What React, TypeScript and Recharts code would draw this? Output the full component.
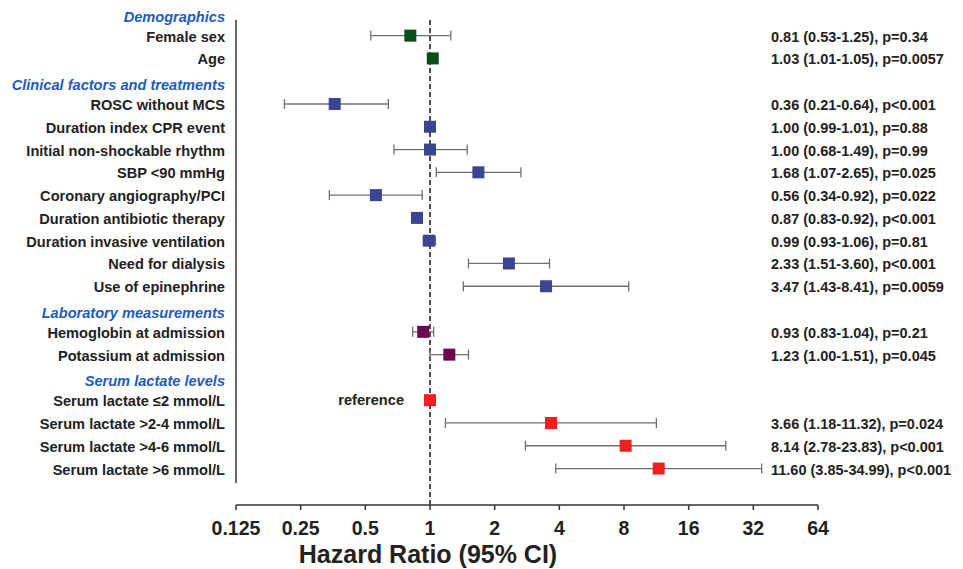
import React from 'react';
import { ScatterChart, Scatter, XAxis, YAxis, ErrorBar, ReferenceLine } from 'recharts';

const rowLabels = [
  'Demographics',
  'Female sex',
  'Age',
  'Clinical factors and treatments',
  'ROSC without MCS',
  'Duration index CPR event',
  'Initial non-shockable rhythm',
  'SBP <90 mmHg',
  'Coronary angiography/PCI',
  'Duration antibiotic therapy',
  'Duration invasive ventilation',
  'Need for dialysis',
  'Use of epinephrine',
  'Laboratory measurements',
  'Hemoglobin at admission',
  'Potassium at admission',
  'Serum lactate levels',
  'Serum lactate ≤2 mmol/L',
  'Serum lactate >2-4 mmol/L',
  'Serum lactate >4-6 mmol/L',
  'Serum lactate >6 mmol/L',
];
const headerRows = [0, 3, 13, 16];
const rowGroups = [
  'demo', 'demo', 'demo',
  'clin', 'clin', 'clin', 'clin', 'clin', 'clin', 'clin', 'clin', 'clin', 'clin',
  'lab', 'lab', 'lab',
  'lact', 'lact', 'lact', 'lact', 'lact',
];
const hrValues: (number | null)[] = [null, 0.81, 1.03, null, 0.36, 1.0, 1.0, 1.68, 0.56, 0.87, 0.99, 2.33, 3.47, null, 0.93, 1.23, null, 1.0, 3.66, 8.14, 11.6];
const ciLow: (number | null)[] = [null, 0.53, 1.01, null, 0.21, 0.99, 0.68, 1.07, 0.34, 0.83, 0.93, 1.51, 1.43, null, 0.83, 1.0, null, null, 1.18, 2.78, 3.85];
const ciHigh: (number | null)[] = [null, 1.25, 1.05, null, 0.64, 1.01, 1.49, 2.65, 0.92, 0.92, 1.06, 3.6, 8.41, null, 1.04, 1.51, null, null, 11.32, 23.83, 34.99];
const statTexts = [
  '',
  '0.81 (0.53-1.25), p=0.34',
  '1.03 (1.01-1.05), p=0.0057',
  '',
  '0.36 (0.21-0.64), p<0.001',
  '1.00 (0.99-1.01), p=0.88',
  '1.00 (0.68-1.49), p=0.99',
  '1.68 (1.07-2.65), p=0.025',
  '0.56 (0.34-0.92), p=0.022',
  '0.87 (0.83-0.92), p<0.001',
  '0.99 (0.93-1.06), p=0.81',
  '2.33 (1.51-3.60), p<0.001',
  '3.47 (1.43-8.41), p=0.0059',
  '',
  '0.93 (0.83-1.04), p=0.21',
  '1.23 (1.00-1.51), p=0.045',
  '',
  '',
  '3.66 (1.18-11.32), p=0.024',
  '8.14 (2.78-23.83), p<0.001',
  '11.60 (3.85-34.99), p<0.001',
];
const referenceRow = 17;
const referenceNote = 'reference';
const xTicks = [0.125, 0.25, 0.5, 1, 2, 4, 8, 16, 32, 64];
const rowTicks = rowLabels.map((_, i) => i);

const groupColors: Record<string, string> = {
  demo: '#0b4d16',
  clin: '#3b4491',
  lab: '#6d0652',
  lact: '#ee2020',
};

const FONT = '"Liberation Sans", Arial, Helvetica, sans-serif';
const LABEL_RIGHT = 225;
const STATS_LEFT = 771;

const buildGroup = (g: string) =>
  rowLabels
    .map((_, i) => i)
    .filter((i) => rowGroups[i] === g && hrValues[i] != null && ciLow[i] != null && ciHigh[i] != null)
    .map((i) => ({
      x: hrValues[i] as number,
      y: i,
      err: [(hrValues[i] as number) - (ciLow[i] as number), (ciHigh[i] as number) - (hrValues[i] as number)],
    }));

const referenceData = [{ x: hrValues[referenceRow] as number, y: referenceRow, note: referenceNote }];

const RowTick = (props: any) => {
  const { y, payload } = props;
  const i = payload.value as number;
  const isHeader = headerRows.includes(i);
  return (
    <g>
      <text
        x={LABEL_RIGHT}
        y={y + (isHeader ? 9 : 6)}
        textAnchor="end"
        fontSize={14.6}
        fontWeight="bold"
        fontStyle={isHeader ? 'italic' : 'normal'}
        fill={isHeader ? '#1d5cb8' : '#222'}
        fontFamily={FONT}
      >
        {rowLabels[i]}
      </text>
      {statTexts[i] ? (
        <text x={STATS_LEFT} y={y + 6} textAnchor="start" fontSize={14.5} fontWeight="bold" fill="#222" fontFamily={FONT}>
          {statTexts[i]}
        </text>
      ) : null}
    </g>
  );
};

const makeSquare = (color: string) => (props: any) => {
  const { cx, cy, payload } = props;
  if (cx == null || cy == null) return <g />;
  return (
    <g>
      <rect x={cx - 6} y={cy - 6} width={12} height={12} fill={color} />
      {payload && payload.note ? (
        <text x={cx - 26} y={cy + 5} textAnchor="end" fontSize={14.6} fontWeight="bold" fill="#222" fontFamily={FONT}>
          {payload.note}
        </text>
      ) : null}
    </g>
  );
};

const TitleLabel = () => (
  <text x={428} y={563} textAnchor="middle" fontSize={25} fontWeight="bold" fill="#222" fontFamily={FONT}>
    Hazard Ratio (95% CI)
  </text>
);

export default function App() {
  return (
    <div style={{ position: 'absolute', left: 0, top: 0, width: 963, height: 569, background: '#fff' }}>
      <ScatterChart width={963} height={569} margin={{ top: 6, right: 145, bottom: 0, left: 0 }}>
        <XAxis
          type="number"
          dataKey="x"
          scale="log"
          domain={[0.125, 64]}
          ticks={xTicks}
          allowDataOverflow
          interval={0}
          height={64}
          tickSize={5}
          tickMargin={11}
          axisLine={{ stroke: '#333', strokeWidth: 1.5 }}
          tickLine={{ stroke: '#333', strokeWidth: 1.5 }}
          tick={{ fontSize: 19.5, fontWeight: 'bold', fill: '#222', fontFamily: FONT }}
          label={{ content: () => <TitleLabel /> }}
        />
        <YAxis
          type="number"
          dataKey="y"
          domain={[-0.3, 21.6]}
          reversed
          allowDataOverflow
          ticks={rowTicks}
          interval={0}
          width={236}
          axisLine={false}
          tickLine={false}
          tick={<RowTick />}
        />
        <ReferenceLine
          segment={[{ x: 0.125, y: 0.31 }, { x: 0.125, y: 20.63 }]}
          stroke="#333"
          strokeWidth={1.5}
          ifOverflow="visible"
        />
        <ReferenceLine
          segment={[{ x: 1, y: 0.31 }, { x: 1, y: 21.6 }]}
          stroke="#111"
          strokeWidth={1.5}
          strokeDasharray="5 3"
          ifOverflow="visible"
        />
        {(['demo', 'clin', 'lab', 'lact'] as const).map((g) => (
          <Scatter key={g} data={buildGroup(g)} fill={groupColors[g]} shape={makeSquare(groupColors[g])} isAnimationActive={false}>
            <ErrorBar dataKey="err" direction="x" width={5} stroke="#707070" strokeWidth={1.3} />
          </Scatter>
        ))}
        <Scatter data={referenceData} fill={groupColors.lact} shape={makeSquare(groupColors.lact)} isAnimationActive={false} />
      </ScatterChart>
    </div>
  );
}
